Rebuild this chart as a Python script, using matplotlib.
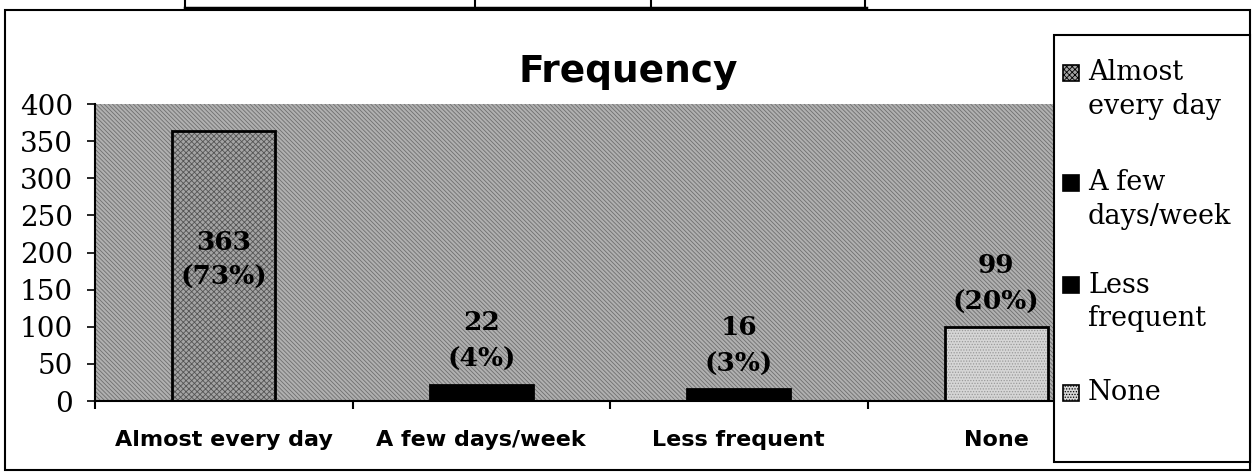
import matplotlib.pyplot as plt
from matplotlib.patches import Rectangle
from matplotlib.lines import Line2D

# data
categories = ['Almost every day', 'A few days/week', 'Less frequent', 'None']
legend_labels = ['Almost\nevery day', 'A few\ndays/week', 'Less\nfrequent', 'None']
counts = [363, 22, 16, 99]
percents = [73, 4, 3, 20]
yticks = [0, 50, 100, 150, 200, 250, 300, 350, 400]
title = 'Frequency'

# fill styles per bar: (facecolor, hatch, hatch colour)
styles = [('#a4a4a4', 'xxxxxx', '#555555'),
          ('black', None, 'black'),
          ('black', None, 'black'),
          ('#d6d6d6', '......', '#9a9a9a')]

W, H = 1252, 473
plt.rcParams['hatch.linewidth'] = 0.6


def fx(px):
    return px / W


def fy(py):
    return 1 - py / H


fig = plt.figure(figsize=(12.52, 4.73), dpi=100)
ax = fig.add_axes([fx(95), fy(401), fx(1125) - fx(95), (401 - 104) / H])

# patterned grey plot area
ax.set_facecolor('#b0b0b0')
ax.add_patch(Rectangle((0, 0), 1, 1, transform=ax.transAxes, facecolor='none',
                       hatch='\\\\\\\\\\\\\\\\', edgecolor='#6e6e6e', lw=0, zorder=0.5))

x = list(range(len(categories)))
for i in x:
    fc, hatch, hc = styles[i]
    ax.bar(x[i], counts[i], width=0.4, color=fc, hatch=hatch, edgecolor=hc, lw=0, zorder=2)
ax.bar(x, counts, width=0.4, color='none', edgecolor='black', lw=2, zorder=3)

# value labels
for i in x:
    txt = f'{counts[i]}\n({percents[i]}%)'
    if counts[i] > 300:
        ax.text(x[i], counts[i] / 2 + 8, txt, ha='center', va='center', fontsize=19,
                family='DejaVu Serif', weight='bold', linespacing=1.5, zorder=4)
    else:
        ax.annotate(txt, (x[i], counts[i]), xytext=(0, 9), textcoords='offset points',
                    ha='center', va='bottom', fontsize=19, family='DejaVu Serif',
                    weight='bold', linespacing=1.6, zorder=4)

ax.set_xlim(-0.5, len(categories) - 0.5)
ax.set_ylim(0, 400)
ax.set_yticks(yticks)
ax.set_yticklabels([str(v) for v in yticks], family='DejaVu Serif', fontsize=20)
ax.set_xticks([i - 0.5 for i in x])
ax.set_xticklabels([])
ax.set_xticks(x, minor=True)
ax.set_xticklabels(categories, minor=True, family='DejaVu Sans', weight='bold', fontsize=16)
ax.tick_params(axis='x', which='major', direction='out', length=6, width=1.5)
ax.tick_params(axis='x', which='minor', length=0, pad=21)
ax.tick_params(axis='y', direction='out', length=6, width=1.2, pad=10)
for s in ['top', 'right']:
    ax.spines[s].set_visible(False)
for s in ['left', 'bottom']:
    ax.spines[s].set_linewidth(1.5)

fig.text(fx(628), fy(82), title, ha='center', va='baseline', fontsize=27,
         family='DejaVu Sans', weight='bold')

# legend box (overlaps the right end of the plot, as in the original)
fig.add_artist(Rectangle((fx(1054), fy(462)), fx(1250) - fx(1054), (462 - 35) / H,
                         transform=fig.transFigure, facecolor='white', edgecolor='black',
                         lw=1.5, zorder=5))
first_line_y = [73, 183, 285, 393]
for i, lab in enumerate(legend_labels):
    fc, hatch, hc = styles[i]
    cy = first_line_y[i]
    fig.add_artist(Rectangle((fx(1063), fy(cy + 8)), 16 / W, 16 / H,
                             transform=fig.transFigure, facecolor=fc, hatch=hatch,
                             edgecolor='black', lw=1.2, zorder=6))
    for j, line in enumerate(lab.split('\n')):
        fig.text(fx(1088), fy(cy + 34 * j), line, ha='left', va='center',
                 fontsize=19.5, family='DejaVu Serif', zorder=7)

# outer frame of the scanned page and the table edge above it
fig.add_artist(Rectangle((fx(5), fy(470)), fx(1250) - fx(5), (470 - 10) / H,
                         transform=fig.transFigure, facecolor='none', edgecolor='black', lw=1.5))
fig.add_artist(Line2D([fx(185), fx(866)], [fy(8), fy(8)], color='black', lw=2.5))
for px in [185, 475, 651, 865]:
    fig.add_artist(Line2D([fx(px), fx(px)], [fy(0), fy(8)], color='black', lw=1.5))

fig.savefig('out.png', dpi=100)
